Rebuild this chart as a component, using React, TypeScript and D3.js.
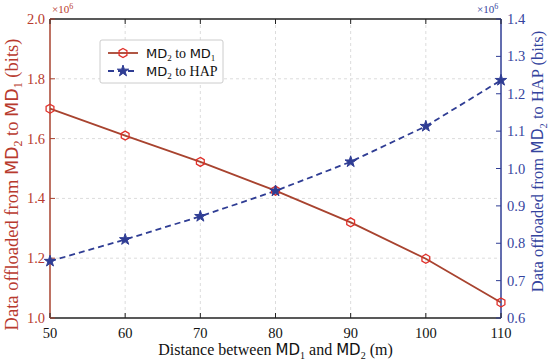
import * as d3 from 'd3'

const distances = [50, 60, 70, 80, 90, 100, 110]
const toMD1 = [1.70, 1.61, 1.522, 1.426, 1.32, 1.198, 1.052]
const toHAP = [0.752, 0.81, 0.872, 0.94, 1.018, 1.113, 1.236]
const leftTicks = [1.0, 1.2, 1.4, 1.6, 1.8, 2.0]
const rightTicks = [0.6, 0.7, 0.8, 0.9, 1.0, 1.1, 1.2, 1.3, 1.4]

const W = 550
const H = 361
const M = { top: 19, right: 49, bottom: 43, left: 50 }
const RED = '#a8432f'
const RED_MARK = '#e0302a'
const RED_TEXT = '#b83a2e'
const BLUE = '#2f3d94'
const BLUE_TEXT = '#34449e'
const SERIF = "'Liberation Serif', 'DejaVu Serif', serif"
const SANS = "'DejaVu Sans', 'Liberation Sans', sans-serif"

export default function App() {
  const w = W - M.left - M.right
  const h = H - M.top - M.bottom
  const x = d3.scaleLinear().domain([50, 110]).range([0, w])
  const yL = d3.scaleLinear().domain([1.0, 2.0]).range([h, 0])
  const yR = d3.scaleLinear().domain([0.6, 1.4]).range([h, 0])

  const lineL = d3.line<number>().x((_, i) => x(distances[i])).y((d) => yL(d))
  const lineR = d3.line<number>().x((_, i) => x(distances[i])).y((d) => yR(d))

  const hexagon = (cx: number, cy: number, r: number) =>
    d3.range(6).map((k) => {
      const a = (Math.PI / 3) * k - Math.PI / 2
      return `${cx + r * Math.cos(a)},${cy + r * Math.sin(a)}`
    }).join(' ')
  const star = d3.symbol().type(d3.symbolStar).size(40)

  return (
    <svg width={W} height={H} style={{ position: 'absolute', left: 0, top: 0, background: '#fff' }}>
      <g transform={`translate(${M.left},${M.top})`}>
        {/* grid */}
        {distances.slice(1, -1).map((d) => (
          <line key={'gx' + d} x1={x(d)} x2={x(d)} y1={0} y2={h} stroke="#dcdcdc" strokeDasharray="3,3" />
        ))}
        {leftTicks.slice(1, -1).map((t) => (
          <line key={'gy' + t} x1={0} x2={w} y1={yL(t)} y2={yL(t)} stroke="#dcdcdc" strokeDasharray="3,3" />
        ))}

        {/* frame */}
        <line x1={0} x2={w} y1={0} y2={0} stroke="#222" strokeWidth={1.5} />
        <line x1={0} x2={w} y1={h} y2={h} stroke="#222" strokeWidth={1.5} />
        <line x1={0} x2={0} y1={0} y2={h} stroke={RED} strokeWidth={1.5} />
        <line x1={w} x2={w} y1={0} y2={h} stroke={BLUE} strokeWidth={1.5} />

        {/* x ticks */}
        {distances.map((d) => (
          <g key={'xt' + d}>
            <line x1={x(d)} x2={x(d)} y1={h} y2={h - 5} stroke="#222" />
            <line x1={x(d)} x2={x(d)} y1={0} y2={5} stroke="#222" />
            <text x={x(d)} y={h + 20} textAnchor="middle" fontFamily={SERIF} fontSize={14.5} fill="#111">{d}</text>
          </g>
        ))}

        {/* left ticks */}
        {leftTicks.map((t) => (
          <g key={'lt' + t}>
            <line x1={0} x2={5} y1={yL(t)} y2={yL(t)} stroke={RED} />
            <text x={-5} y={yL(t)} dy="0.35em" textAnchor="end" fontFamily={SERIF} fontSize={14.5} fill={RED_TEXT}>{t.toFixed(1)}</text>
          </g>
        ))}

        {/* right ticks */}
        {rightTicks.map((t) => (
          <g key={'rt' + t}>
            <line x1={w} x2={w - 5} y1={yR(t)} y2={yR(t)} stroke={BLUE} />
            <text x={w + 6} y={yR(t)} dy="0.35em" textAnchor="start" fontFamily={SERIF} fontSize={14.5} fill={BLUE_TEXT}>{t.toFixed(1)}</text>
          </g>
        ))}

        {/* exponents */}
        <text x={2} y={-6} fontFamily={SERIF} fontSize={11} fill={RED_TEXT}>×10<tspan dy={-4} fontSize={8}>6</tspan></text>
        <text x={w - 24} y={-6} fontFamily={SERIF} fontSize={11} fill={BLUE_TEXT}>×10<tspan dy={-4} fontSize={8}>6</tspan></text>

        {/* series */}
        <path d={lineL(toMD1) ?? ''} fill="none" stroke={RED} strokeWidth={1.8} />
        <path d={lineR(toHAP) ?? ''} fill="none" stroke={BLUE} strokeWidth={1.8} strokeDasharray="6,4" />
        {toMD1.map((v, i) => (
          <polygon key={'m1' + i} points={hexagon(x(distances[i]), yL(v), 4.5)} fill="none" stroke={RED_MARK} strokeWidth={1.3} />
        ))}
        {toHAP.map((v, i) => (
          <path key={'m2' + i} d={star() ?? ''} transform={`translate(${x(distances[i])},${yR(v)})`} fill={BLUE} stroke={BLUE} />
        ))}

        {/* legend */}
        <g transform="translate(50,21)">
          <rect x={0} y={0} width={123} height={43} fill="#fff" stroke="#ccc" rx={2} />
          <line x1={8} x2={38} y1={13} y2={13} stroke={RED} strokeWidth={1.8} />
          <polygon points={hexagon(23, 13, 4.5)} fill="none" stroke={RED_MARK} strokeWidth={1.3} />
          <text x={46} y={13} dy="0.35em" fontSize={14} fill="#111" fontFamily={SERIF}>
            <tspan fontFamily={SANS} fontSize={13}>MD</tspan><tspan fontSize={9} dy={3}>2</tspan><tspan dy={-3}> to </tspan><tspan fontFamily={SANS} fontSize={13}>MD</tspan><tspan fontSize={9} dy={3}>1</tspan>
          </text>
          <line x1={8} x2={38} y1={31} y2={31} stroke={BLUE} strokeWidth={1.8} strokeDasharray="6,4" />
          <path d={star() ?? ''} transform="translate(23,31)" fill={BLUE} stroke={BLUE} />
          <text x={46} y={31} dy="0.35em" fontSize={14} fill="#111" fontFamily={SERIF}>
            <tspan fontFamily={SANS} fontSize={13}>MD</tspan><tspan fontSize={9} dy={3}>2</tspan><tspan dy={-3}> to HAP</tspan>
          </text>
        </g>

        {/* axis titles */}
        <text x={w / 2} y={h + 37} textAnchor="middle" fontFamily={SERIF} fontSize={16} fill="#111">
          Distance between <tspan fontFamily={SANS} fontSize={15}>MD</tspan><tspan fontSize={10} dy={4}>1</tspan><tspan dy={-4}> and </tspan><tspan fontFamily={SANS} fontSize={15}>MD</tspan><tspan fontSize={10} dy={4}>2</tspan><tspan dy={-4}> (m)</tspan>
        </text>
        <text transform={`translate(-32,${h / 2 + 16}) rotate(-90)`} textAnchor="middle" fontFamily={SERIF} fontSize={18.5} fill={RED_TEXT}>
          Data offloaded from <tspan fontFamily={SANS} fontSize={17.5}>MD</tspan><tspan fontSize={12} dy={4}>2</tspan><tspan dy={-4}> to </tspan><tspan fontFamily={SANS} fontSize={17.5}>MD</tspan><tspan fontSize={12} dy={4}>1</tspan><tspan dy={-4}> (bits)</tspan>
        </text>
        <text transform={`translate(${w + 42},${h / 2 - 7}) rotate(-90)`} textAnchor="middle" fontFamily={SERIF} fontSize={16.5} fill={BLUE_TEXT}>
          Data offloaded from <tspan fontFamily={SANS} fontSize={15.5}>MD</tspan><tspan fontSize={10.5} dy={4}>2</tspan><tspan dy={-4}> to HAP (bits)</tspan>
        </text>
      </g>
    </svg>
  )
}
